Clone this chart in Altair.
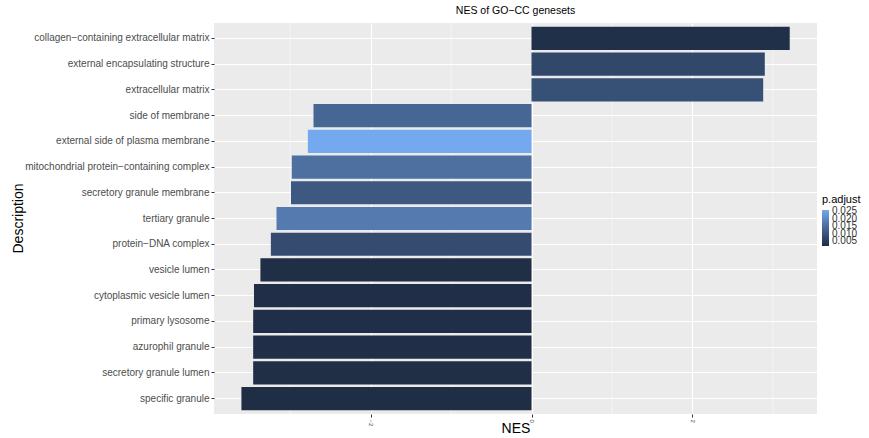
import altair as alt
import pandas as pd

descriptions = [
    "collagen−containing extracellular matrix",
    "external encapsulating structure",
    "extracellular matrix",
    "side of membrane",
    "external side of plasma membrane",
    "mitochondrial protein−containing complex",
    "secretory granule membrane",
    "tertiary granule",
    "protein−DNA complex",
    "vesicle lumen",
    "cytoplasmic vesicle lumen",
    "primary lysosome",
    "azurophil granule",
    "secretory granule lumen",
    "specific granule",
]
nes = [3.21, 2.90, 2.88, -2.71, -2.78, -2.98, -2.99, -3.17, -3.24, -3.37,
       -3.45, -3.46, -3.46, -3.46, -3.606]
p_adjust = [0.0025, 0.0075, 0.0092, 0.0135, 0.026, 0.0155, 0.0110, 0.0175,
            0.0085, 0.0020, 0.0022, 0.0021, 0.0021, 0.0020, 0.0018]

major_ticks = [-2, 0, 2]
minor_ticks = [-3, -1, 1, 3]
legend_values = [0.005, 0.010, 0.015, 0.020, 0.025]

df = pd.DataFrame({"Description": descriptions, "NES": nes, "padj": p_adjust})
minor_df = pd.DataFrame({"NES": minor_ticks})

FONT = "Liberation Sans"
x_scale = alt.Scale(domain=[-3.947, 3.549], nice=False, zero=False)
x_axis = alt.Axis(
    title="NES",
    values=major_ticks,
    grid=True,
    gridColor="white",
    gridWidth=1.1,
    domain=False,
    tickSize=3,
    tickColor="#333333",
    labelAngle=90,
    labelFont=FONT,
    labelFontSize=6,
    labelColor="#4D4D4D",
    labelPadding=2,
    labelAlign="left",
    labelBaseline="middle",
    titleFont=FONT,
    titleFontSize=14,
    titleFontWeight="normal",
    titleColor="black",
    titleY=14,
    titleBaseline="middle",
)

minor = alt.Chart(minor_df).mark_rule(color="white", strokeWidth=0.5).encode(
    x=alt.X("NES:Q", scale=x_scale, axis=x_axis)
)

bars = alt.Chart(df).mark_bar().encode(
    y=alt.Y(
        "Description:N",
        sort=descriptions,
        scale=alt.Scale(paddingInner=0.1, paddingOuter=0.15),
        axis=alt.Axis(
            title="Description",
            grid=True,
            gridColor="white",
            gridWidth=1,
            bandPosition=0.5,
            domain=False,
            ticks=True,
            tickSize=3,
            tickColor="#333333",
            labelFont=FONT,
            labelFontSize=10,
            labelColor="#4D4D4D",
            labelPadding=2,
            labelLimit=400,
            titleFont=FONT,
            titleFontSize=14,
            titleFontWeight="normal",
            titleColor="black",
            titleAngle=270,
            titleX=-196,
            titleY=195,
            titleAlign="center",
            titleBaseline="middle",
        ),
    ),
    x=alt.X("NES:Q", scale=x_scale, axis=x_axis),
    color=alt.Color(
        "padj:Q",
        scale=alt.Scale(range=["#1F2D45", "#74A9EF"], interpolate="lab", zero=False, nice=False),
        legend=alt.Legend(
            title="p.adjust",
            orient="none",
            legendX=608,
            legendY=171,
            values=legend_values,
            format=".3f",
            gradientLength=36,
            gradientThickness=7,
            gradientStrokeWidth=0,
            labelOverlap=False,
            labelFont=FONT,
            labelFontSize=10,
            labelColor="#333333",
            labelOffset=3,
            titleFont=FONT,
            titleFontSize=11,
            titleFontWeight="normal",
            titleColor="black",
            titlePadding=5,
        ),
    ),
)

chart = (
    alt.layer(minor, bars)
    .properties(
        width=603,
        height=391,
        autosize=alt.AutoSizeParams(type="none"),
        padding={"left": 214, "top": 23, "right": 52, "bottom": 24},
        title=alt.TitleParams(
            "NES of GO−CC genesets",
            font=FONT,
            fontSize=10.5,
            fontWeight="normal",
            color="black",
            anchor="middle",
            offset=6,
        ),
        background="white",
    )
    .configure_view(fill="#EBEBEB", stroke=None)
)

chart.save("out.html", embed_options={"renderer": "svg", "actions": False})
